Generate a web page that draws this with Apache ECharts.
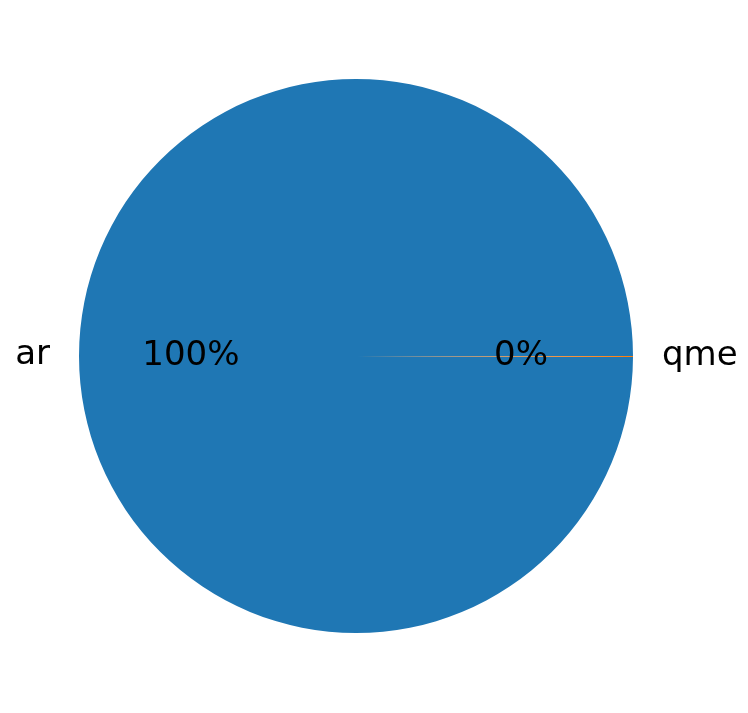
<!DOCTYPE html>
<html>
<head>
<meta charset="utf-8">
<script src="https://cdn.jsdelivr.net/npm/echarts@6/dist/echarts.min.js"></script>
<style>
html,body{margin:0;padding:0;background:#fff;}
#chart{width:748px;height:713px;}
</style>
</head>
<body>
<div id="chart"></div>
<script>
const categories = ['ar', 'qme'];
const values = [1700, 1];
const colors = ['#1f77b4', '#ff7f0e'];

const data = categories.map((c, i) => ({ name: c, value: values[i], itemStyle: { color: colors[i] } }));
const R = 277;
const font = 'DejaVu Sans';

const chart = echarts.init(document.getElementById('chart'));
chart.setOption({
  animation: false,
  backgroundColor: '#ffffff',
  series: [
    {
      type: 'pie',
      center: [356, 356],
      radius: [0, R],
      startAngle: 0,
      clockwise: false,
      percentPrecision: 0,
      avoidLabelOverlap: false,
      minShowLabelAngle: 0,
      data: data,
      itemStyle: { borderWidth: 0 },
      emphasis: { disabled: true },
      label: {
        show: true,
        position: 'outside',
        formatter: '{b}',
        color: '#000',
        fontFamily: font,
        fontSize: 34,
        padding: [5, 0, 0, 0],
        distanceToLabelLine: 5
      },
      labelLine: { show: false, length: 24, length2: 0 }
    },
    {
      type: 'pie',
      center: [356, 356],
      radius: [0, R * 1.17],
      startAngle: 0,
      clockwise: false,
      percentPrecision: 0,
      avoidLabelOverlap: false,
      minShowLabelAngle: 0,
      silent: true,
      data: categories.map((c, i) => ({ name: c, value: values[i] })),
      itemStyle: { color: 'rgba(0,0,0,0)', borderWidth: 0 },
      emphasis: { disabled: true },
      label: {
        show: true,
        position: 'inside',
        formatter: '{d}%',
        color: '#000',
        fontFamily: font,
        fontSize: 34,
        padding: [5, 0, 0, 0]
      },
      labelLine: { show: false }
    }
  ]
});
</script>
</body>
</html>
